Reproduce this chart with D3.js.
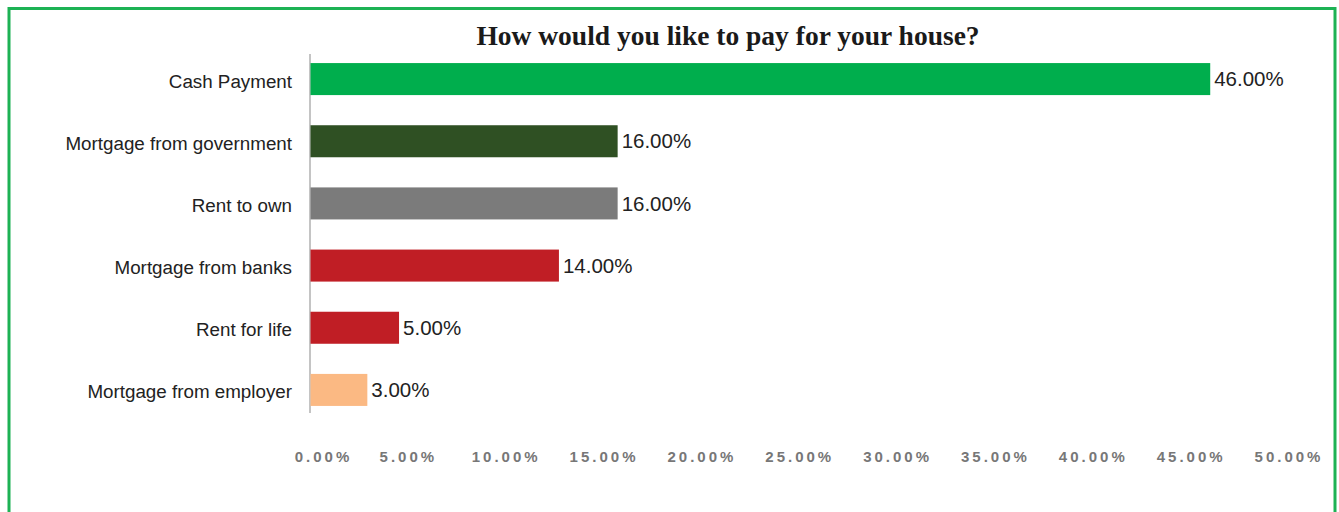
<!DOCTYPE html>
<html>
<head>
<meta charset="utf-8">
<script src="https://cdn.jsdelivr.net/npm/d3@7"></script>
<style>
  html, body { margin: 0; padding: 0; background: #fff; }
  svg { display: block; }
</style>
</head>
<body>
<svg id="chart"></svg>
<script>
const width = 1339,
      height = 512;

// data: bar lengths as drawn, labels as printed
const categories = ['Cash Payment', 'Mortgage from government', 'Rent to own',
                    'Mortgage from banks', 'Rent for life', 'Mortgage from employer'];
const values = [46, 15.72, 15.72, 12.72, 4.55, 2.93];
const valueLabels = ['46.00%', '16.00%', '16.00%', '14.00%', '5.00%', '3.00%'];
const barColors = ['#00ae4d', '#2f5023', '#7b7b7b', '#c01e25', '#c01e25', '#fbb983'];
const ticks = [0, 5, 10, 15, 20, 25, 30, 35, 40, 45, 50];

const rows = categories.map((c, i) => ({
  name: c, value: values[i], label: valueLabels[i], color: barColors[i]
}));

const svg = d3.select('#chart')
  .attr('width', width)
  .attr('height', height);

// green frame
svg.append('rect')
  .attr('x', 9)
  .attr('y', 8.5)
  .attr('width', 1326)
  .attr('height', 600)
  .attr('fill', 'none')
  .attr('stroke', '#1db254')
  .attr('stroke-width', 3);

svg.append('text')
  .attr('x', 728)
  .attr('y', 45)
  .attr('text-anchor', 'middle')
  .style('font-family', '"Liberation Serif", "Times New Roman", serif')
  .style('font-weight', 'bold')
  .style('font-size', '27.5px')
  .style('fill', '#1a1a1a')
  .text('How would you like to pay for your house?');

const x = d3.scaleLinear()
  .domain([0, 50])
  .range([310, 1288.5]);

const y = d3.scaleBand()
  .domain(categories)
  .range([48, 421])
  .paddingInner(0.485)
  .paddingOuter(0.2425);

// vertical axis line
svg.append('line')
  .attr('x1', x(0)).attr('x2', x(0))
  .attr('y1', 54).attr('y2', 413)
  .attr('stroke', '#b0b0b0')
  .attr('stroke-width', 1.5);

svg.append('g')
  .selectAll('rect')
  .data(rows)
  .join('rect')
  .attr('x', x(0) + 0.5)
  .attr('y', d => y(d.name))
  .attr('width', d => x(d.value) - x(0) - 0.5)
  .attr('height', y.bandwidth())
  .attr('fill', d => d.color);

// category labels
svg.append('g')
  .selectAll('text')
  .data(rows)
  .join('text')
  .attr('x', 292)
  .attr('y', d => y(d.name) + y.bandwidth() / 2 + 2)
  .attr('dy', '0.35em')
  .attr('text-anchor', 'end')
  .style('font-family', '"Liberation Sans", Arial, sans-serif')
  .style('font-size', '18.8px')
  .style('fill', '#222')
  .text(d => d.name);

// value labels
svg.append('g')
  .selectAll('text')
  .data(rows)
  .join('text')
  .attr('x', d => x(d.value) + 4)
  .attr('y', d => y(d.name) + y.bandwidth() / 2)
  .attr('dy', '0.35em')
  .style('font-family', '"Liberation Sans", Arial, sans-serif')
  .style('font-size', '20.5px')
  .style('fill', '#222')
  .text(d => d.label);

// x axis, labels only
const xAxis = svg.append('g')
  .attr('transform', 'translate(0,451)')
  .call(d3.axisBottom(x).tickValues(ticks).tickSize(0).tickPadding(0)
    .tickFormat(d => d.toFixed(2) + '%'));

xAxis.select('.domain').remove();
xAxis.selectAll('text')
  .attr('dy', '0.71em')
  .attr('dx', d => d === 0 ? 13 : 0)
  .style('font-family', '"Liberation Sans", Arial, sans-serif')
  .style('font-size', '15px')
  .style('font-weight', 'bold')
  .style('letter-spacing', '3px')
  .style('fill', '#777');
</script>
</body>
</html>
